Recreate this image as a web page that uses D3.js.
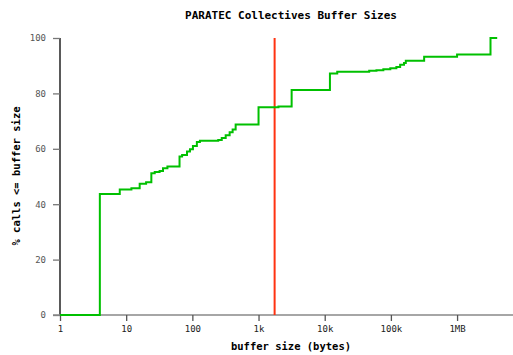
<!DOCTYPE html>
<html>
<head>
<meta charset="utf-8">
<script src="https://cdn.jsdelivr.net/npm/d3@7"></script>
<style>
  html, body { margin: 0; padding: 0; background: #fff; }
  svg { display: block; }
  text { font-family: "DejaVu Sans Mono", "Liberation Mono", monospace; }
</style>
</head>
<body>
<svg id="chart" width="513" height="355"></svg>
<script>
// Cumulative distribution of collective buffer sizes (bytes -> % of calls)
const sizes = [1, 4, 8, 12, 16, 20, 24, 27, 32, 36, 42, 64, 70, 83, 92, 102, 117, 130,
  246, 278, 319, 366, 406, 451, 1000, 2000, 3164, 11990, 15460, 47000, 60500, 76900,
  98000, 121000, 138000, 158000, 168000, 318000, 1000000, 3200000, 4040000];
const pctCalls = [0, 43.7, 45.3, 45.8, 47.4, 47.9, 51.2, 51.6, 52, 53, 53.6, 57.2, 57.8, 59,
  59.8, 61, 62.5, 62.9, 63.2, 63.9, 64.9, 66, 67, 68.8, 75.0, 75.3, 81.2, 87.2, 87.8, 88.2,
  88.4, 88.7, 89.1, 89.5, 90.3, 91, 91.8, 93.2, 94, 100, 100];
const markerSize = [1750];

const xTickVals = [1, 10, 100, 1000, 10000, 100000, 1000000];
const xTickLabels = ["1", "10", "100", "1k", "10k", "100k", "1MB"];
const yTickVals = [0, 20, 40, 60, 80, 100];

const svg = d3.select("#chart");
const x = d3.scaleLog().domain([1, 7e6]).range([60, 513]);
const y = d3.scaleLinear().domain([0, 100]).range([315, 38]);

// Title
svg.append("text").attr("x", 291).attr("y", 19).attr("text-anchor", "middle")
  .attr("font-size", 11).attr("font-weight", "bold").attr("fill", "#000")
  .text("PARATEC Collectives Buffer Sizes");

// Y axis
const yAxis = svg.append("g").attr("transform", "translate(60,0)")
  .call(d3.axisLeft(y).tickValues(yTickVals).tickSize(7).tickPadding(7));
yAxis.select(".domain").attr("stroke", "#000").attr("stroke-width", 1.3)
  .attr("d", `M0,${y(100)}V${y(0)}`);
yAxis.selectAll(".tick line").attr("stroke", "#777").attr("stroke-width", 1.3);
yAxis.selectAll(".tick text").attr("font-size", 9).attr("fill", "#555")
  .attr("font-family", "DejaVu Sans Mono, monospace");

// X axis
const xAxis = svg.append("g").attr("transform", "translate(0,315)")
  .call(d3.axisBottom(x).tickValues(xTickVals)
    .tickFormat((d, i) => xTickLabels[i]).tickSize(6).tickPadding(5));
xAxis.select(".domain").attr("stroke", "#888").attr("stroke-width", 1.3)
  .attr("d", "M53,0H513");
xAxis.selectAll(".tick line").attr("stroke", "#555").attr("stroke-width", 1.3);
xAxis.selectAll(".tick text").attr("font-size", 9).attr("fill", "#222")
  .attr("font-family", "DejaVu Sans Mono, monospace");

// Axis titles
svg.append("text").attr("x", 291).attr("y", 350).attr("text-anchor", "middle")
  .attr("font-size", 10.5).attr("font-weight", "bold").attr("fill", "#000")
  .text("buffer size (bytes)");
svg.append("text").attr("transform", "translate(20,176) rotate(-90)")
  .attr("text-anchor", "middle").attr("font-size", 10.5).attr("font-weight", "bold")
  .attr("fill", "#000").text("% calls <= buffer size");

// Marker line
svg.selectAll(".marker").data(markerSize).enter().append("line")
  .attr("x1", d => x(d)).attr("x2", d => x(d))
  .attr("y1", y(100)).attr("y2", y(0))
  .attr("stroke", "#ff3311").attr("stroke-width", 2);

// CDF step line
const pts = sizes.map((s, i) => [s, pctCalls[i]]);
const line = d3.line().x(d => x(d[0])).y(d => y(d[1])).curve(d3.curveStepAfter);
svg.append("path").datum(pts).attr("d", line)
  .attr("fill", "none").attr("stroke", "#00c000").attr("stroke-width", 2);
</script>
</body>
</html>
